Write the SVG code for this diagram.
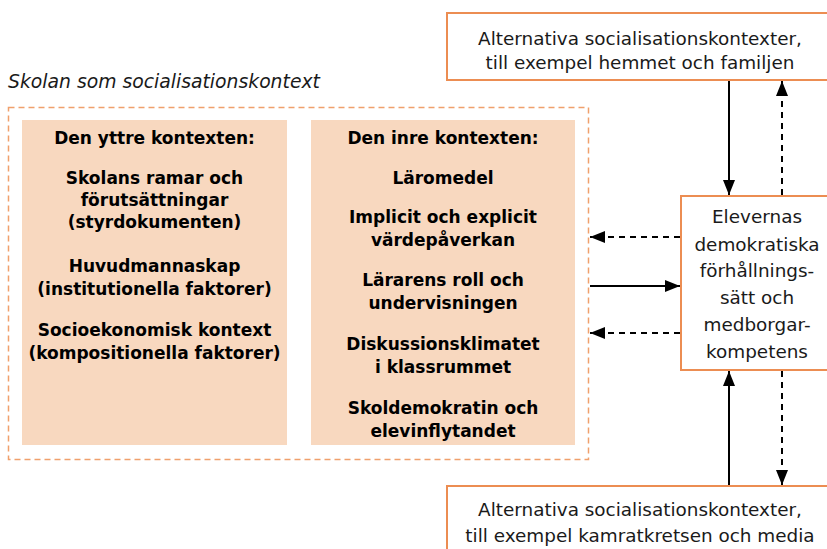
<svg xmlns="http://www.w3.org/2000/svg" width="827" height="549" viewBox="0 0 827 549">
<style>
  .reg { font-family: "DejaVu Sans", sans-serif; font-size: 18.4px; fill: #1a1a1a; text-anchor: middle; }
  .bold { font-family: "DejaVu Sans", sans-serif; font-size: 17px; font-weight: bold; fill: #000; text-anchor: middle; }
  .ital { font-family: "DejaVu Sans", sans-serif; font-size: 18.8px; font-style: italic; fill: #1a1a1a; }
  .obox { fill: #fff; stroke: #EC8D52; stroke-width: 2; }
  .peach { fill: #F8D8BF; }
  .solid { stroke: #000; stroke-width: 2; fill: none; }
  .dash { stroke: #000; stroke-width: 2; fill: none; stroke-dasharray: 6 5; }
</style>
<defs>
  <marker id="ah" viewBox="0 0 15 12" refX="15" refY="6" markerWidth="15" markerHeight="12" markerUnits="userSpaceOnUse" orient="auto">
    <path d="M0,0 L15,6 L0,12 Z" fill="#000"/>
  </marker>
</defs>
<rect width="827" height="549" fill="#fff"/>

<g id="skolan">
  <text class="ital" x="8" y="88">Skolan som socialisationskontext</text>
  <rect x="8.5" y="107.5" width="580" height="352" fill="none" stroke="#F0A06C" stroke-width="1.5" stroke-dasharray="6 4"/>
</g>

<g id="yttre">
  <rect class="peach" x="22" y="120" width="265" height="325"/>
  <text class="bold" x="154.5" y="144">Den yttre kontexten:</text>
  <text class="bold" x="154.5" y="184">Skolans ramar och</text>
  <text class="bold" x="154.5" y="206">förutsättningar</text>
  <text class="bold" x="154.5" y="228">(styrdokumenten)</text>
  <text class="bold" x="154.5" y="272">Huvudmannaskap</text>
  <text class="bold" x="154.5" y="295">(institutionella faktorer)</text>
  <text class="bold" x="154.5" y="336">Socioekonomisk kontext</text>
  <text class="bold" x="154.5" y="359">(kompositionella faktorer)</text>
</g>

<g id="inre">
  <rect class="peach" x="311" y="120" width="264" height="325"/>
  <text class="bold" x="443" y="144">Den inre kontexten:</text>
  <text class="bold" x="443" y="184">Läromedel</text>
  <text class="bold" x="443" y="223">Implicit och explicit</text>
  <text class="bold" x="443" y="246">värdepåverkan</text>
  <text class="bold" x="443" y="286">Lärarens roll och</text>
  <text class="bold" x="443" y="309">undervisningen</text>
  <text class="bold" x="443" y="350">Diskussionsklimatet</text>
  <text class="bold" x="443" y="373">i klassrummet</text>
  <text class="bold" x="443" y="414">Skoldemokratin och</text>
  <text class="bold" x="443" y="437">elevinflytandet</text>
</g>

<g id="hemmet">
  <rect class="obox" x="447" y="13" width="390" height="67"/>
  <text class="reg" x="640" y="45">Alternativa socialisationskontexter,</text>
  <text class="reg" x="640" y="69">till exempel hemmet och familjen</text>
</g>

<g id="elevernas">
  <rect class="obox" x="681" y="196" width="156" height="174"/>
  <text class="reg" x="757" y="223">Elevernas</text>
  <text class="reg" x="757" y="251">demokratiska</text>
  <text class="reg" x="757" y="277">förhållnings-</text>
  <text class="reg" x="757" y="304">sätt och</text>
  <text class="reg" x="757" y="331">medborgar-</text>
  <text class="reg" x="757" y="358">kompetens</text>
</g>

<g id="kamrat">
  <rect class="obox" x="447" y="486" width="390" height="80"/>
  <text class="reg" x="640" y="516">Alternativa socialisationskontexter,</text>
  <text class="reg" x="640" y="542">till exempel kamratkretsen och media</text>
</g>

<g id="connectors">
  <line class="solid" x1="729" y1="81" x2="729" y2="195" marker-end="url(#ah)"/>
  <line class="dash" x1="782" y1="195" x2="782" y2="81" marker-end="url(#ah)"/>
  <line class="solid" x1="729" y1="485" x2="729" y2="371" marker-end="url(#ah)"/>
  <line class="dash" x1="782" y1="371" x2="782" y2="485" marker-end="url(#ah)"/>
  <line class="dash" x1="680" y1="237" x2="590" y2="237" marker-end="url(#ah)"/>
  <line class="solid" x1="590" y1="286" x2="680" y2="286" marker-end="url(#ah)"/>
  <line class="dash" x1="680" y1="333" x2="590" y2="333" marker-end="url(#ah)"/>
</g>
</svg>
